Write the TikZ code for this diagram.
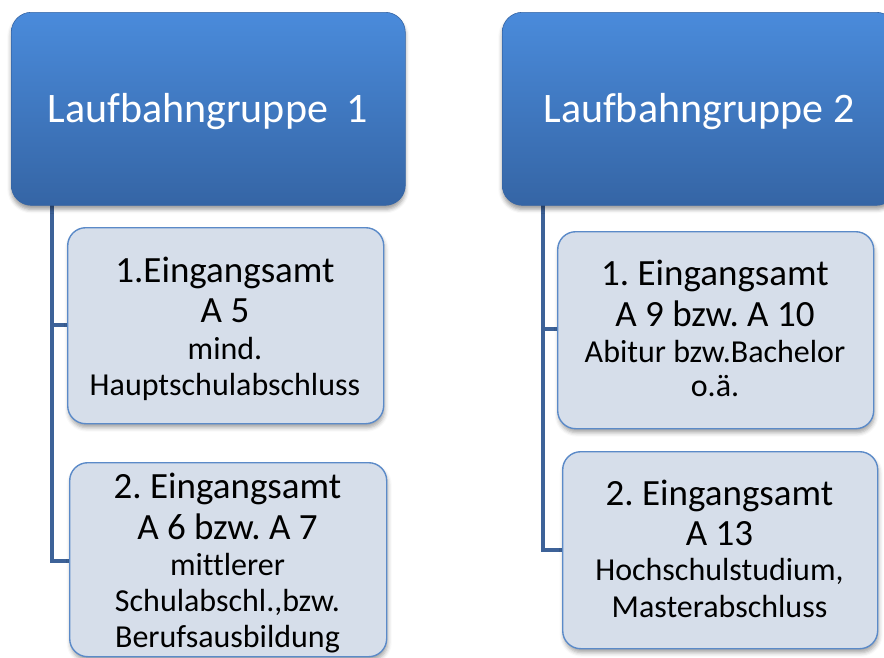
\documentclass[tikz,border=0pt]{standalone}
\usepackage{fontspec}
\setmainfont[Ligatures=NoCommon]{Carlito}
\usetikzlibrary{shadows.blur,backgrounds}
\definecolor{topA}{HTML}{4A8BDB}
\definecolor{topB}{HTML}{3565A5}
\definecolor{kidfill}{HTML}{D6DEEA}
\definecolor{kidline}{HTML}{5B8AC8}
\definecolor{conn}{HTML}{3D6298}
\newcommand{\bigln}{\fontsize{37}{36}\selectfont}
\newcommand{\smln}{\fontsize{32}{36}\selectfont}
\frenchspacing
\tikzset{
  headbox/.style={rounded corners=20pt, top color=topA, bottom color=topB,
    draw=topB, line width=0.6pt, inner sep=0pt, anchor=north west,
    blur shadow={shadow xshift=0pt, shadow yshift=-4pt, shadow blur radius=4pt, shadow opacity=40}},
  kidbox/.style={rounded corners=18pt, fill=kidfill, draw=kidline, line width=1.4pt,
    inner sep=0pt, anchor=north west,
    blur shadow={shadow xshift=1pt, shadow yshift=-4pt, shadow blur radius=4pt, shadow opacity=35}},
  link/.style={draw=conn, line width=4.5pt},
  headtext/.style={text=white, font=\fontsize{42}{50}\selectfont, anchor=base, inner sep=0pt},
  kidtext/.style={align=center, font=\bigln, inner sep=0pt}
}
\begin{document}
\begin{tikzpicture}[x=1pt, y=-1pt]
\useasboundingbox (0,0) rectangle (884,657);
\clip (0,0) rectangle (884,657);
% kid boxes
\node[kidbox, minimum width=316pt, minimum height=196pt] (l1) at (67,227) {};
\node[kidbox, minimum width=317pt, minimum height=194pt] (l2) at (69,462) {};
\node[kidbox, minimum width=316pt, minimum height=197pt] (r1) at (557,231) {};
\node[kidbox, minimum width=315pt, minimum height=197pt] (r2) at (562,451) {};
% head boxes
\node[headbox, minimum width=394pt, minimum height=193pt] (h1) at (11,12) {};
\node[headbox, minimum width=394pt, minimum height=193pt] (h2) at (502,12) {};
% connectors
\coordinate (t1) at (52,200);
\coordinate (t2) at (543,200);
\coordinate (l1w) at (67,325);
\coordinate (l2w) at (69,561);
\coordinate (r1w) at (557,329);
\coordinate (r2w) at (562,550);
\begin{scope}[on background layer]
\draw[link] (t1) |- (l2.west |- l2w);
\draw[link] (t1 |- l1w) -- (l1.west |- l1w);
\draw[link] (t2) |- (r2.west |- r2w);
\draw[link] (t2 |- r1w) -- (r1.west |- r1w);
\end{scope}
% head texts
\node[headtext] (h1t) at (208,122) {Laufbahngruppe\ \ 1};
\node[headtext] (h2t) at (699,122) {Laufbahngruppe 2};
% kid texts
\node[kidtext] (l1t) at (225,328.5) {1.Eingangsamt\\[4pt]A 5\\[1pt]\smln mind.\\\smln Hauptschulabschluss};
\node[kidtext] (l2t) at (227.5,563) {2. Eingangsamt\\[5pt]A 6 bzw. A 7\\\smln mittlerer\\\smln Schulabschl.,bzw.\\\smln Berufsausbildung};
\node[kidtext] (r1t) at (715,328.5) {1. Eingangsamt\\[5pt]A 9 bzw. A 10\\\smln Abitur bzw.Bachelor\\[-2pt]\smln o.ä.};
\node[kidtext] (r2t) at (719.5,549) {2. Eingangsamt\\[4pt]A 13\\[-1pt]\smln Hochschulstudium,\\[1pt]\smln Masterabschluss};
\end{tikzpicture}
\end{document}
